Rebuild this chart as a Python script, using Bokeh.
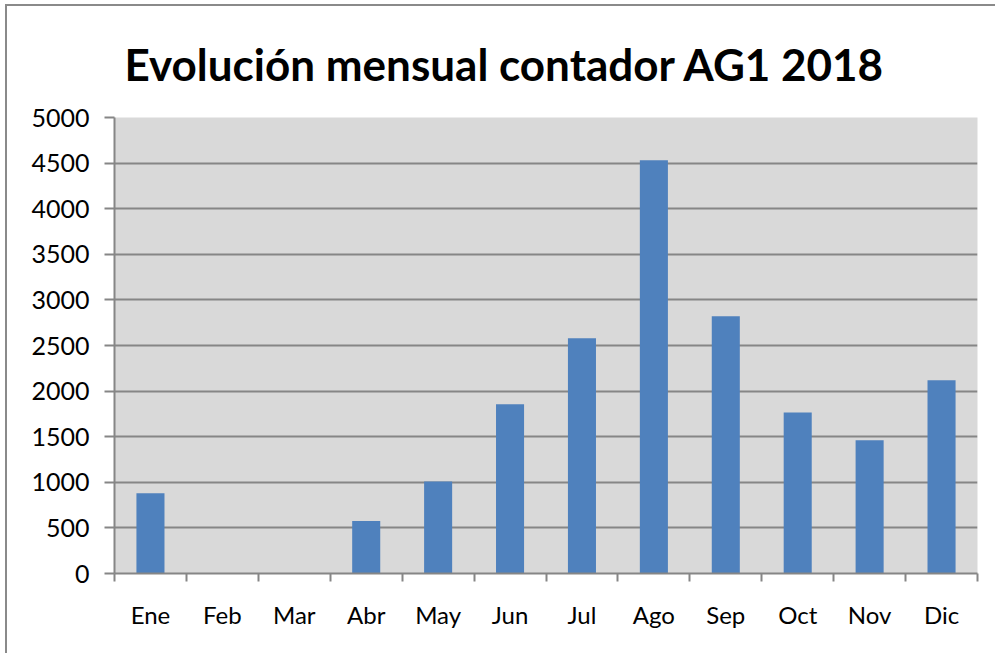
from bokeh.plotting import figure
from bokeh.models import FixedTicker, Range1d, Title, ColumnDataSource
from bokeh.embed import file_html
from bokeh.resources import INLINE

months = ["Ene", "Feb", "Mar", "Abr", "May", "Jun", "Jul", "Ago", "Sep", "Oct", "Nov", "Dic"]
values = [880, 0, 0, 575, 1010, 1855, 2580, 4530, 2820, 1765, 1460, 2120]
y_ticks = [0, 500, 1000, 1500, 2000, 2500, 3000, 3500, 4000, 4500, 5000]
title_text = "Evolución mensual contador AG1 2018"

FONT = "Lato"
GRID = "#868686"

xs = [i + 0.5 for i in range(len(months))]
src = ColumnDataSource(dict(x=xs, top=values))

p = figure(width=990, height=649, output_backend="svg", toolbar_location=None,
           x_range=Range1d(0, len(months)), y_range=Range1d(0, 5000),
           min_border_left=107, min_border_right=20, min_border_top=111, min_border_bottom=82,
           title=None)
p.styles = {"border-left": "2px solid #8a8a8a", "border-top": "2px solid #8a8a8a",
            "margin-left": "5px", "margin-top": "4px"}

t = Title(text=title_text, align="left", vertical_align="bottom", text_font=FONT,
          text_font_size="44px", text_font_style="bold", text_color="black",
          standoff=56, offset=10)
p.add_layout(t, "above")

p.background_fill_color = "#d9d9d9"
p.border_fill_color = "white"
p.outline_line_color = None

p.vbar(x="x", top="top", bottom=0, width=0.39, source=src, color="#4f81bd", line_color=None)

# y axis
p.yaxis.ticker = FixedTicker(ticks=y_ticks)
p.yaxis.axis_line_color = GRID
p.yaxis.axis_line_width = 2
p.yaxis.major_tick_line_color = GRID
p.yaxis.major_tick_line_width = 2
p.yaxis.major_tick_out = 10
p.yaxis.major_tick_in = 0
p.yaxis.minor_tick_line_color = None
p.yaxis.major_label_text_font = FONT
p.yaxis.major_label_text_font_size = "25px"
p.yaxis.major_label_text_color = "black"
p.yaxis.major_label_standoff = 15

# x axis
p.xaxis.ticker = FixedTicker(ticks=xs, minor_ticks=list(range(len(months) + 1)))
p.xaxis.major_label_overrides = {x: m for x, m in zip(xs, months)}
p.xaxis.axis_line_color = GRID
p.xaxis.axis_line_width = 2
p.xaxis.major_tick_line_color = None
p.xaxis.major_tick_out = 0
p.xaxis.major_tick_in = 0
p.xaxis.minor_tick_line_color = GRID
p.xaxis.minor_tick_line_width = 2
p.xaxis.minor_tick_out = 8
p.xaxis.minor_tick_in = 0
p.xaxis.major_label_text_font = FONT
p.xaxis.major_label_text_font_size = "24px"
p.xaxis.major_label_text_color = "black"
p.xaxis.major_label_standoff = 18

p.xgrid.grid_line_color = None
p.ygrid.ticker = FixedTicker(ticks=y_ticks)
p.ygrid.grid_line_color = GRID
p.ygrid.grid_line_width = 2

open("out.html", "w").write(file_html(p, INLINE))
